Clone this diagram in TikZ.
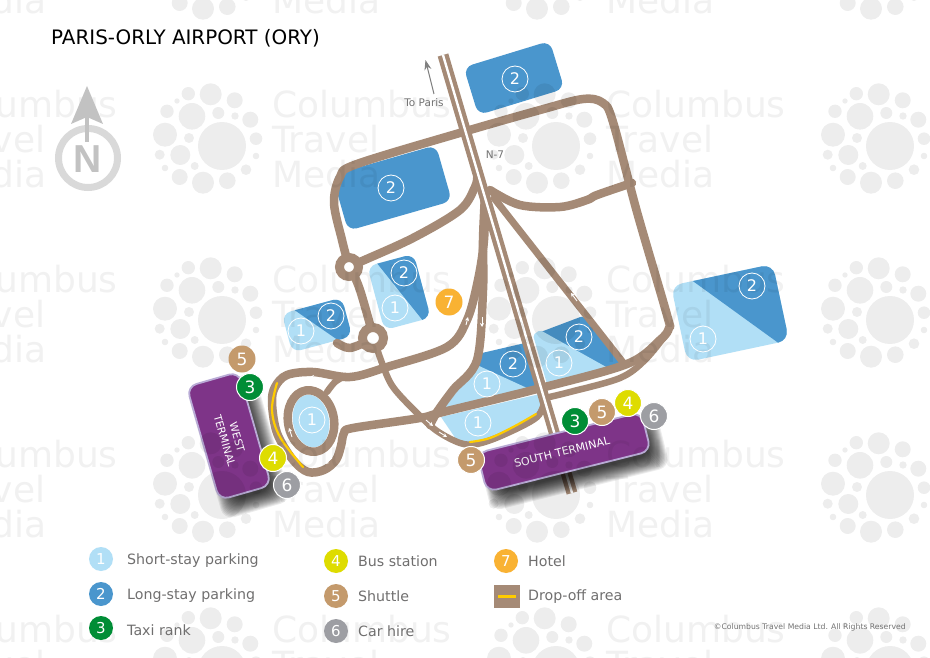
\documentclass[tikz,border=0pt]{standalone}
\usepackage{fontspec}
\setmainfont{DejaVu Sans}
\newfontfamily\nfont{Liberation Sans}
\usetikzlibrary{arrows.meta}
\definecolor{roadc}{HTML}{A58A76}
\definecolor{lightp}{HTML}{B1DFF6}
\definecolor{darkp}{HTML}{4A96CD}
\definecolor{purp}{HTML}{7E3488}
\definecolor{purb}{HTML}{B9ABD6}
\definecolor{tanb}{HTML}{C49A6C}
\definecolor{greenb}{HTML}{008D36}
\definecolor{yelb}{HTML}{DEDC00}
\definecolor{grayb}{HTML}{9D9EA3}
\definecolor{orab}{HTML}{F9B233}
\definecolor{yell}{HTML}{FFCC00}
\definecolor{legt}{HTML}{706F6F}
\newcommand\sz[1]{\fontsize{#1}{#1}\selectfont}
\tikzset{
  road/.style={draw=roadc,line width=8.5pt,line cap=round,line join=round},
  thinroad/.style={draw=roadc,line width=6.5pt,line cap=round,line join=round},
  ring/.style={draw=roadc,line width=9pt,fill=white},
  flow/.style={draw=white,line width=.9pt,-{Stealth[length=4pt,width=4pt]}},
  spot/.style={circle,draw=white,line width=.8pt,minimum size=26pt,inner sep=0pt,text=white,font=\sz{16}},
  badge/.style={circle,minimum size=27pt,inner sep=0pt,text=white,font=\sz{17}},
  wbadge/.style={badge,draw=white,line width=1pt},
  leg/.style={circle,minimum size=24pt,inner sep=0pt,text=white,font=\sz{15}},
  legtext/.style={anchor=west,text=legt,font=\sz{14.2},inner sep=0pt},
  wmt/.style={anchor=base west,inner sep=0pt,opacity=.055,font=\sz{36}},
  term/.style={fill=purp,draw=purb,line width=1.8pt},
}
\begin{document}
\begin{tikzpicture}[x=1pt,y=-1pt]
\useasboundingbox (0,0) rectangle (930,658);
\fill[white] (0,0) rectangle (930,658);

% parking
\fill[darkp,rounded corners=9pt,shift={(514,78)},rotate=17] (-45,-25) rectangle (45,25);
\fill[darkp,rounded corners=9pt,shift={(392,188)},rotate=16] (-54,-29) rectangle (54,29);
\begin{scope}
 \clip[rounded corners=9pt,shift={(399,292)},rotate=15] (-24,-33) rectangle (24,33);
 \fill[lightp] (350,240) rectangle (450,340);
 \fill[darkp] (376,262) -- (424,322) -- (450,322) -- (450,240) -- (376,240) -- cycle;
\end{scope}
\begin{scope}
 \clip[rounded corners=9pt,shift={(317,325)},rotate=15] (-31,-20) rectangle (31,20);
 \fill[lightp] (270,290) rectangle (370,360);
 \fill[darkp] (293,309) -- (345,345) -- (370,345) -- (370,290) -- (293,290) -- cycle;
\end{scope}
\begin{scope}
 \clip[rounded corners=11pt,shift={(730,313)},rotate=12] (-52,-39) rectangle (52,39);
 \fill[lightp] (660,250) rectangle (800,370);
 \fill[darkp] (690,279) -- (784,347) -- (800,347) -- (800,250) -- (690,250) -- cycle;
\end{scope}
\fill[darkp] (482,353) -- (525,343) -- (538,388) -- (527,389) -- (477,367) -- cycle;
\fill[lightp] (477,365) -- (527,388) -- (443,410) -- cycle;
\fill[darkp,rounded corners=2pt] (538,333) -- (583,316) -- (622,363) -- (607,369) -- cycle;
\fill[lightp,rounded corners=2pt] (533,335) -- (540,330) -- (608,368) -- (547,384) -- cycle;
\fill[lightp] (441,417) -- (540,394) -- (540,415) -- (503,435) -- (477,444) -- (458,442) -- cycle;

% roads
\draw[road] plot[smooth,tension=.55] coordinates {(349,267)(342,240)(334,203)(340,177)(357,164)(463,132)(540,110)(583,99)(603,103)(613,122)(637,212)(667,315)(669,328)(660,340)(627,364)(537,389)(443,412)(420,418)(353,428)(344,433)(341,446)(336,460)(324,470)(308,472)(293,460)(277,433)(272,403)(275,387)(287,375)(313,372)(350,377)(387,367)(447,347)(467,320)(478,280)(484,240)(485,195)};
\draw[road] plot[smooth,tension=.55] coordinates {(485,195)(483,240)(483,290)(477,360)(453,390)(437,412)(430,425)};
\draw[thinroad] plot[smooth,tension=.55] coordinates {(374,339)(382,363)(393,387)(417,413)(437,431)(460,443)(477,444)(503,435)(537,417)(545,398)};
\draw[thinroad] plot[smooth,tension=.55] coordinates {(545,398)(570,392)(620,378)(645,360)(668,332)};
\draw[road,line width=7pt] (494,198) -- (625,365);
\draw[road] plot[smooth,tension=.55] coordinates {(490,190)(520,205)(560,207)(587,200)(597,195)(632,183)};
\draw[road] plot[smooth,tension=.55] coordinates {(350,267)(360,262)(413,238)(460,210)(475,187)(477,178)};
\draw[road] plot[smooth,tension=.55] coordinates {(350,267)(360,290)(374,339)};
\draw[road] plot[smooth,tension=.55] coordinates {(337,343)(350,348)(370,340)};
\draw[thinroad] plot[smooth,tension=.55] coordinates {(327,392)(335,382)(345,376)};
\fill[lightp,rotate around={10:(311,421)}] (311,421) ellipse[x radius=18pt,y radius=26.5pt];
\draw[road,rotate around={10:(311,421)}] (311,421) ellipse[x radius=23pt,y radius=31pt];
\draw[ring] (349,267) circle[radius=9.5pt];
\draw[ring] (373,338) circle[radius=10.5pt];
% N-7
\draw[draw=roadc,line width=11pt] (443,55) -- (572,493);
\draw[draw=white,line width=2.4pt] (443,55) -- (572,493);

% flow arrows
\draw[flow] (317,377) -- (310,377);
\draw[flow] (292,437) -- (289,428);
\draw[flow] (332,458) -- (325,464);
\draw[flow] (482,317) -- (482,327);
\draw[flow] (466,325) -- (468,317);
\draw[flow] (426,420) -- (433,426);
\draw[flow] (439,432) -- (447,437);
\draw[flow] (577,301) -- (571,293);
% drop-off lines
\draw[yell,line width=2.2pt,line cap=round] plot[smooth,tension=.6] coordinates {(277,383)(272,410)(280,437)(303,467)};
\draw[yell,line width=2.2pt,line cap=round] plot[smooth,tension=.6] coordinates {(470,442)(490,438)(515,426)(536,414)};

% terminals
\begin{scope}[shift={(239,446)},rotate=16]
 \foreach \g in {8,7,...,-8}
  \fill[black,opacity=.075,rounded corners=11pt] (-27-\g,-59-\g) rectangle (27+\g,59+\g);
\end{scope}
\begin{scope}[shift={(574,462)},rotate=14]
 \foreach \g in {8,7,...,-8}
  \fill[black,opacity=.075,rounded corners=11pt] (-84-\g,-20-\g) rectangle (84+\g,20+\g);
\end{scope}
\draw[term,rounded corners=10pt,shift={(229,436)},rotate=16] (-27,-59) rectangle (27,59);
\draw[term,rounded corners=10pt,shift={(564,452)},rotate=14] (-84.5,-20) rectangle (84.5,20);
\node[name=westt,rotate=-74,text=white,align=center,font=\fontsize{10.5}{13}\selectfont,inner sep=0pt] at (231,439) {WEST\\TERMINAL};
\node[name=southt,rotate=14,text=white,font=\sz{11},inner sep=0pt] at (562,452) {SOUTH TERMINAL};

% watermark
\foreach \fx in {-112,222,556,890}
 \foreach \fy in {-28,146,320,495,670} {
  \fill[black,opacity=.07] foreach \a/\b/\r in {0/0/24,-11.3/-51.7/11,-33.7/-52.3/6.7,12.7/-45.7/8,28.3/-26.3/8,34/-7.3/6.3,34/10/3.3,24/23.7/5.3,5.3/34.7/8.3,-19/36.7/11,-42.3/31/8,-27.3/20/4,-57/22/3.3,-62.3/8.7/5,-41.7/9/10,-33/-8/5,-57/-11.3/12,-55/-34.7/6.7,-45/-45/2.7,-30/-29.7/13.3,-3.7/-33/6,13/-30/3.7} {(\fx+\a,\fy+\b) circle[radius=\r pt]};
  \node[wmt,name=wma\fx\fy] at (\fx+50,\fy-28) {Columbus};
  \node[wmt,name=wmb\fx\fy] at (\fx+50,\fy+7) {Travel};
  \node[wmt,name=wmc\fx\fy] at (\fx+50,\fy+42) {Media};
 }

% compass
\draw[draw=black!15,line width=7pt] (88,158) circle[radius=29.5pt];
\fill[black!24] (87,86) -- (103,124) -- (87,117) -- (71,124) -- cycle;
\draw[draw=black!24,line width=4pt] (87,112) -- (87,142);
\node[name=north,text=black!24,inner sep=0pt,font=\nfont\bfseries\sz{39}] at (88,159) {N};

% parking labels
\node[spot,name=p1] at (515,79) {2};
\node[spot,name=p2] at (391,188) {2};
\node[spot,name=p3] at (404,273) {2};
\node[spot,name=p4] at (395,308) {1};
\node[spot,name=p5] at (331,316) {2};
\node[spot,name=p6] at (301,331) {1};
\node[spot,name=p7] at (752,286) {2};
\node[spot,name=p8] at (703,339) {1};
\node[spot,name=p9] at (579,337) {2};
\node[spot,name=p10] at (559,363) {1};
\node[spot,name=p11] at (513,364) {2};
\node[spot,name=p12] at (487,384) {1};
\node[spot,name=p13] at (478,423) {1};
\node[spot,name=p14] at (312,420) {1};

% badges
\node[badge,fill=orab,name=b7] at (449,302) {7};
\node[badge,fill=tanb,name=b5a] at (242,359) {5};
\node[wbadge,fill=greenb,name=b3a] at (250,387) {3};
\node[wbadge,fill=yelb,name=b4a] at (273,458) {4};
\node[wbadge,fill=grayb,name=b6a] at (287,485) {6};
\node[wbadge,fill=tanb,name=b5b] at (471,460) {5};
\node[wbadge,fill=greenb,name=b3b] at (575,421) {3};
\node[wbadge,fill=tanb,name=b5c] at (602,412) {5};
\node[wbadge,fill=yelb,name=b4b] at (628,403) {4};
\node[wbadge,fill=grayb,name=b6b] at (654,416) {6};

% texts
\node[name=title,anchor=west,inner sep=0pt,font=\sz{19.9}] at (51,38) {PARIS-ORLY AIRPORT (ORY)};
\node[name=toparis,text=black!55,inner sep=0pt,font=\sz{10.5}] at (424,103) {To Paris};
\node[name=nseven,text=black!55,inner sep=0pt,font=\sz{10.5}] at (495,155) {N-7};
\coordinate (pa) at (434,94);
\coordinate (pb) at (425.5,60);
\draw[draw=black!50,line width=1pt,-{Stealth[length=10pt,width=7pt]}] (pa) -- (pb);

% legend
\node[leg,fill=lightp,name=l1] at (101,559) {1};
\node[leg,fill=darkp,name=l2] at (101,594) {2};
\node[leg,fill=greenb,name=l3] at (101,628) {3};
\node[leg,fill=yelb,name=l4] at (336,561) {4};
\node[leg,fill=tanb,name=l5] at (336,596) {5};
\node[leg,fill=grayb,name=l6] at (336,631) {6};
\node[leg,fill=orab,name=l7] at (506,561) {7};
\fill[roadc] (494,585) rectangle (520,608);
\draw[yell,line width=2.4pt] (498,596.5) -- (516,596.5);
\node[legtext,name=t1] at (127,560.5) {Short-stay parking};
\node[legtext,name=t2] at (127,595.5) {Long-stay parking};
\node[legtext,name=t3] at (127,630) {Taxi rank};
\node[legtext,name=t4] at (358,561) {Bus station};
\node[legtext,name=t5] at (358,596) {Shuttle};
\node[legtext,name=t6] at (358,631) {Car hire};
\node[legtext,name=t7] at (528,561) {Hotel};
\node[legtext,name=t8] at (528,597) {Drop-off area};
\node[name=copy,anchor=east,text=black!55,inner sep=0pt,font=\sz{7.7}] at (906,627) {©Columbus Travel Media Ltd. All Rights Reserved};
\end{tikzpicture}
\end{document}
